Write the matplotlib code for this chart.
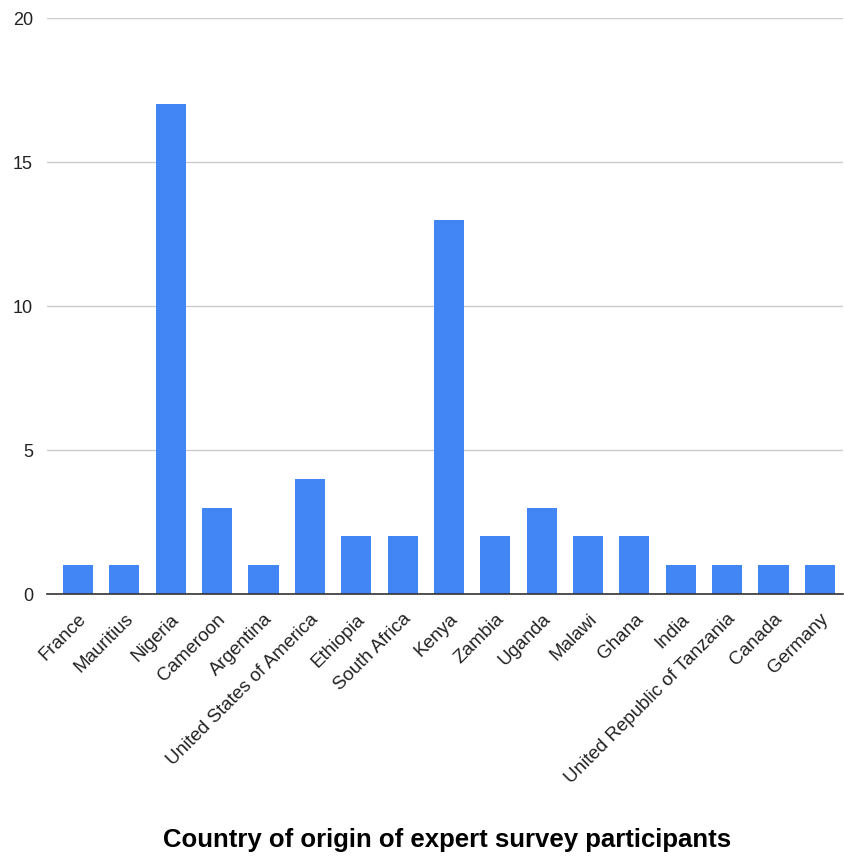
import matplotlib
matplotlib.use("Agg")
import matplotlib.pyplot as plt

countries = ["France", "Mauritius", "Nigeria", "Cameroon", "Argentina",
             "United States of America", "Ethiopia", "South Africa", "Kenya",
             "Zambia", "Uganda", "Malawi", "Ghana", "India",
             "United Republic of Tanzania", "Canada", "Germany"]
counts = [1, 1, 17, 3, 1, 4, 2, 2, 13, 2, 3, 2, 2, 1, 1, 1, 1]
yticks = [0, 5, 10, 15, 20]
title = "Country of origin of expert survey participants"

plt.rcParams['font.family'] = ['Liberation Sans', 'DejaVu Sans']

fig = plt.figure(figsize=(8.44, 8.63), dpi=100)
ax = fig.add_axes([0.0557, 0.3117, 0.9431, 0.6674])

x = list(range(len(countries)))
ax.bar(x, counts, width=0.65, color="#4285F4", zorder=3)

ax.set_ylim(0, 20)
ax.set_xlim(-0.67, 16.5)
ax.set_yticks(yticks)
ax.set_yticklabels([str(v) for v in yticks], fontsize=13, color="#222222")
ax.yaxis.grid(True, color="#cccccc", linewidth=1, zorder=0)
ax.tick_params(axis='y', length=0, pad=10)
ax.tick_params(axis='x', length=0, pad=12)
ax.set_xticks(x)
ax.set_xticklabels(countries, rotation=45, ha='right', rotation_mode='anchor',
                   fontsize=13.5, color="#222222")
for s in ["top", "right", "left"]:
    ax.spines[s].set_visible(False)
ax.spines["bottom"].set_color("#333333")
ax.spines["bottom"].set_linewidth(1.2)
ax.spines["bottom"].set_zorder(4)

fig.text(447 / 844, 1 - 840 / 863, title, ha='center', va='center',
         fontsize=18.5, fontweight='bold', color="#000000")

fig.savefig("out.png", dpi=100)
